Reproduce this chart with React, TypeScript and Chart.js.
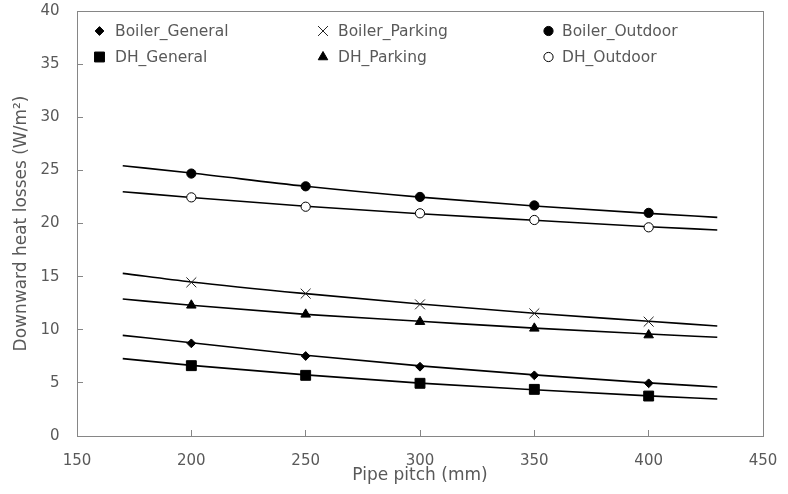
import React, { useEffect, useRef } from "react";
import { Chart, registerables } from "chart.js";
import { drawPoint } from "chart.js/helpers";

Chart.register(...registerables);

const pitches = [200, 250, 300, 350, 400];
const boilerGeneral = [8.72, 7.53, 6.52, 5.71, 4.96];
const boilerParking = [14.46, 13.4, 12.39, 11.54, 10.76];
const boilerOutdoor = [24.7, 23.5, 22.5, 21.7, 21.0];
const dhGeneral = [6.62, 5.71, 4.96, 4.39, 3.76];
const dhParking = [12.3, 11.45, 10.76, 10.13, 9.5];
const dhOutdoor = [22.46, 21.58, 20.96, 20.33, 19.64];

const trendX = [170, 200, 250, 300, 350, 400, 430];
const trendBoilerGeneral = [9.47, 8.78, 7.6, 6.6, 5.75, 5.0, 4.61];
const trendBoilerParking = [15.31, 14.5, 13.4, 12.42, 11.55, 10.8, 10.35];
const trendBoilerOutdoor = [25.44, 24.75, 23.5, 22.48, 21.65, 20.95, 20.58];
const trendDhGeneral = [7.28, 6.65, 5.75, 4.98, 4.35, 3.78, 3.48];
const trendDhParking = [12.89, 12.3, 11.45, 10.8, 10.15, 9.6, 9.29];
const trendDhOutdoor = [22.99, 22.45, 21.62, 20.92, 20.3, 19.7, 19.39];

const xTicks = [150, 200, 250, 300, 350, 400, 450];
const yTicks = [0, 5, 10, 15, 20, 25, 30, 35, 40];

const FONT = "'DejaVu Sans', sans-serif";
const TEXT = "#595959";
const AXIS = "#868686";

type S = { name: string; data: number[]; trend: number[]; style: string; radius: number; fill: string; stroke: string; col: number; row: number };

const series: S[] = [
  { name: "Boiler_General", data: boilerGeneral, trend: trendBoilerGeneral, style: "rectRot", radius: 4.4, fill: "#000", stroke: "#000", col: 0, row: 0 },
  { name: "Boiler_Parking", data: boilerParking, trend: trendBoilerParking, style: "crossRot", radius: 7, fill: "#000", stroke: "#222", col: 1, row: 0 },
  { name: "Boiler_Outdoor", data: boilerOutdoor, trend: trendBoilerOutdoor, style: "circle", radius: 4.6, fill: "#000", stroke: "#000", col: 2, row: 0 },
  { name: "DH_General", data: dhGeneral, trend: trendDhGeneral, style: "rect", radius: 7, fill: "#000", stroke: "#000", col: 0, row: 1 },
  { name: "DH_Parking", data: dhParking, trend: trendDhParking, style: "triangle", radius: 5.5, fill: "#000", stroke: "#000", col: 1, row: 1 },
  { name: "DH_Outdoor", data: dhOutdoor, trend: trendDhOutdoor, style: "circle", radius: 4.6, fill: "#fff", stroke: "#000", col: 2, row: 1 },
];

const legendCols = [{ m: 99.5, t: 115 }, { m: 323, t: 338 }, { m: 548.5, t: 562 }];
const legendRows = [31, 57];

const framePlugin = {
  id: "frame",
  afterDraw(chart: any) {
    const { ctx, chartArea } = chart;
    ctx.save();
    ctx.strokeStyle = AXIS;
    ctx.lineWidth = 1;
    ctx.strokeRect(Math.round(chartArea.left) + 0.5, Math.round(chartArea.top) + 0.5, Math.round(chartArea.right - chartArea.left), Math.round(chartArea.bottom - chartArea.top));
    ctx.font = `15.5px ${FONT}`;
    ctx.textBaseline = "middle";
    ctx.textAlign = "left";
    series.forEach((s) => {
      const c = legendCols[s.col];
      const y = legendRows[s.row];
      ctx.fillStyle = s.fill;
      ctx.strokeStyle = s.stroke;
      ctx.lineWidth = 1;
      drawPoint(ctx, { pointStyle: s.style as any, radius: s.radius, rotation: 0, borderWidth: 1 }, c.m, y);
      ctx.fillStyle = TEXT;
      ctx.fillText(s.name, c.t, y + 0.5);
    });
    ctx.restore();
  },
};

const zeroPad = (scale: any) => {
  scale.paddingTop = 0;
  scale.paddingBottom = 0;
  scale.paddingLeft = 0;
  scale.paddingRight = 0;
};

export default function App() {
  const ref = useRef<HTMLCanvasElement>(null);
  useEffect(() => {
    if (!ref.current) return;
    const datasets: any[] = [];
    series.forEach((s) => {
      datasets.push({
        label: s.name + " trend",
        data: trendX.map((x, i) => ({ x, y: s.trend[i] })),
        showLine: true,
        borderColor: "#000",
        borderWidth: 1.6,
        pointRadius: 0,
        cubicInterpolationMode: "monotone",
        order: 2,
      });
    });
    series.forEach((s) => {
      datasets.push({
        label: s.name,
        data: pitches.map((x, i) => ({ x, y: s.data[i] })),
        showLine: false,
        pointStyle: s.style,
        pointRadius: s.radius,
        pointBackgroundColor: s.fill,
        pointBorderColor: s.stroke,
        pointBorderWidth: 1,
        order: 1,
      });
    });
    const chart = new Chart(ref.current, {
      type: "scatter",
      data: { datasets },
      plugins: [framePlugin],
      options: {
        animation: false,
        responsive: false,
        layout: { padding: { top: 11, right: 25, left: 0, bottom: 0 } },
        plugins: { legend: { display: false }, tooltip: { enabled: false } },
        scales: {
          x: {
            type: "linear",
            min: 150,
            max: 450,
            afterBuildTicks: (scale: any) => {
              scale.ticks = xTicks.map((v) => ({ value: v }));
            },
            afterFit: (scale: any) => {
              scale.height = 58;
              zeroPad(scale);
            },
            grid: { display: true, drawOnChartArea: false, drawTicks: true, tickLength: -6, color: AXIS, tickColor: AXIS },
            border: { display: true, color: AXIS },
            ticks: { color: TEXT, font: { family: FONT, size: 15 }, padding: 22.2, maxRotation: 0 },
            title: { display: true, text: "Pipe pitch (mm)", color: TEXT, font: { family: FONT, size: 17 }, padding: { top: 0, bottom: 7.8 } },
          },
          y: {
            type: "linear",
            min: 0,
            max: 40,
            afterBuildTicks: (scale: any) => {
              scale.ticks = yTicks.map((v) => ({ value: v }));
            },
            afterFit: (scale: any) => {
              scale.width = 77;
              zeroPad(scale);
            },
            grid: { display: true, drawOnChartArea: false, drawTicks: true, tickLength: -6, color: AXIS, tickColor: AXIS },
            border: { display: true, color: AXIS },
            ticks: { color: TEXT, font: { family: FONT, size: 15 }, padding: 23.5 },
            title: { display: true, text: "Downward heat losses (W/m²)", color: TEXT, font: { family: FONT, size: 17 }, padding: { top: 11.8, bottom: 0 } },
          },
        },
      } as any,
    });
    return () => chart.destroy();
  }, []);
  return (
    <div style={{ position: "absolute", left: 0, top: 0, width: 788, height: 494, background: "#fff" }}>
      <canvas ref={ref} width={788} height={494} style={{ display: "block" }} />
    </div>
  );
}
